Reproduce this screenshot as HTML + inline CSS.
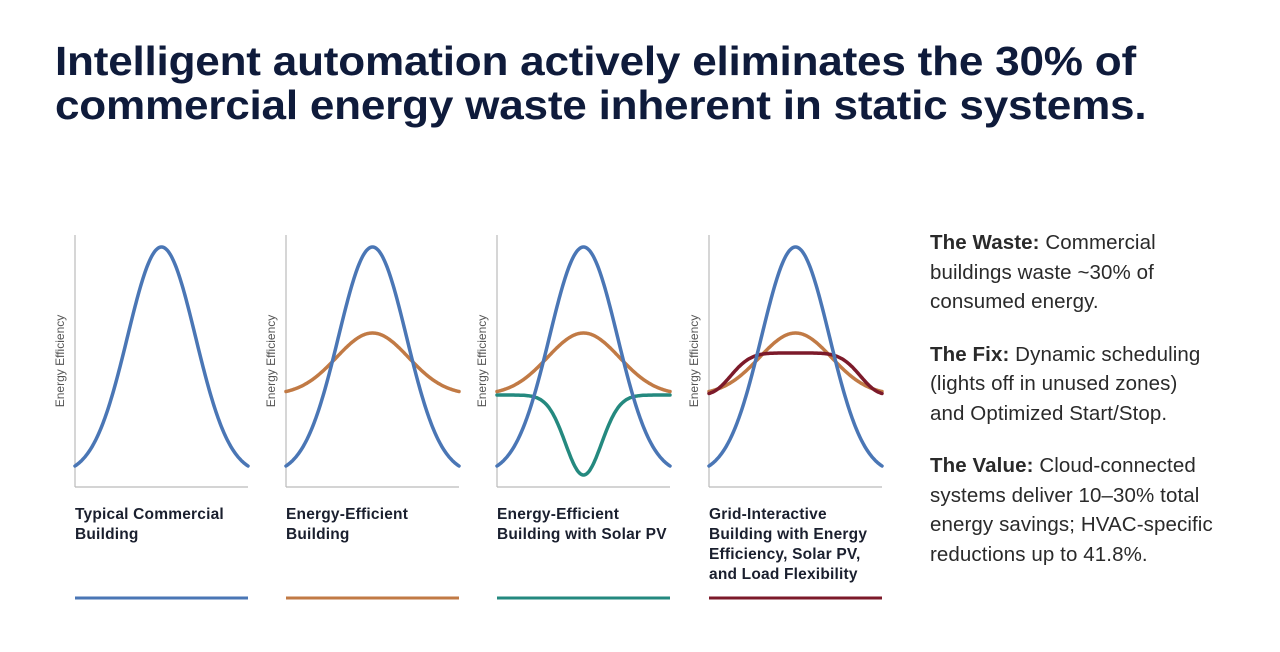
<!DOCTYPE html>
<html><head><meta charset="utf-8"><style>
body{margin:0;width:1280px;height:652px;background:#fff;font-family:"Liberation Sans",sans-serif;position:relative;overflow:hidden}
h1{position:absolute;left:55px;top:39px;margin:0;font-size:41px;line-height:44px;color:#0f1b3b;font-weight:bold;letter-spacing:-0.2px;transform:scaleX(1.075);transform-origin:left top;white-space:nowrap}
.lbl{position:absolute;top:505px;font-size:15.5px;font-weight:bold;color:#1a1f2e;line-height:20px;white-space:nowrap;letter-spacing:0.2px}
.side{position:absolute;left:930px;top:228px;width:340px;font-size:20.5px;line-height:29.5px;color:#2a2a2a;white-space:nowrap;letter-spacing:0.1px}
.side p{margin:0 0 23px 0}
</style></head><body>
<h1>Intelligent automation actively eliminates the 30% of<br>commercial energy waste inherent in static systems.</h1>
<svg id="s" width="1280" height="652" style="position:absolute;left:0;top:0"></svg>
<div class="lbl" style="left:75px">Typical Commercial<br>Building</div>
<div class="lbl" style="left:286px">Energy-Efficient<br>Building</div>
<div class="lbl" style="left:497px">Energy-Efficient<br>Building with Solar PV</div>
<div class="lbl" style="left:709px">Grid-Interactive<br>Building with Energy<br>Efficiency, Solar PV,<br>and Load Flexibility</div>
<div class="side">
<p><b>The Waste:</b> Commercial<br>buildings waste ~30% of<br>consumed energy.</p>
<p><b>The Fix:</b> Dynamic scheduling<br>(lights off in unused zones)<br>and Optimized Start/Stop.</p>
<p><b>The Value:</b> Cloud-connected<br>systems deliver 10–30% total<br>energy savings; HVAC-specific<br>reductions up to 41.8%.</p>
</div>
<script>
var s=document.getElementById('s'),h='';
function path(x0,f,col){var d='';for(var i=0;i<=173;i++){var y=f(i-86.5);d+=(i?'L':'M')+(x0+i)+','+y.toFixed(1);}
h+='<path d="'+d+'" fill="none" stroke="'+col+'" stroke-width="3.5" stroke-linecap="round"/>';}
var B='#4a76b5',O='#c17a45',T='#24897f',R='#7c1a2a';
var xs=[75,286,497,709],lc=[B,O,T,R];
xs.forEach(function(x,k){
h+='<line x1="'+x+'" y1="235" x2="'+x+'" y2="487" stroke="#bbb" stroke-width="1.2"/>';
h+='<line x1="'+x+'" y1="487" x2="'+(x+173)+'" y2="487" stroke="#bbb" stroke-width="1.2"/>';
h+='<text transform="translate('+(x-11)+',361) rotate(-90)" text-anchor="middle" font-family="Liberation Sans" font-size="12" fill="#555">Energy Efficiency</text>';
h+='<line x1="'+x+'" y1="598" x2="'+(x+173)+'" y2="598" stroke="'+lc[k]+'" stroke-width="3"/>';
});
var blue=function(u){return 475-228*Math.exp(-u*u/(2*34*34));};
var org=function(u){return 395-62*Math.exp(-u*u/(2*36*36));};
var teal=function(u){return 395+80*Math.exp(-u*u/(2*18*18));};
var red=function(u){return 395-42*Math.exp(-Math.pow(Math.abs(u)/68,5));};
path(75,blue,B);
path(286,org,O);path(286,blue,B);
path(497,teal,T);path(497,org,O);path(497,blue,B);
path(709,org,O);path(709,red,R);path(709,blue,B);
s.innerHTML=h;
</script>
</body></html>
